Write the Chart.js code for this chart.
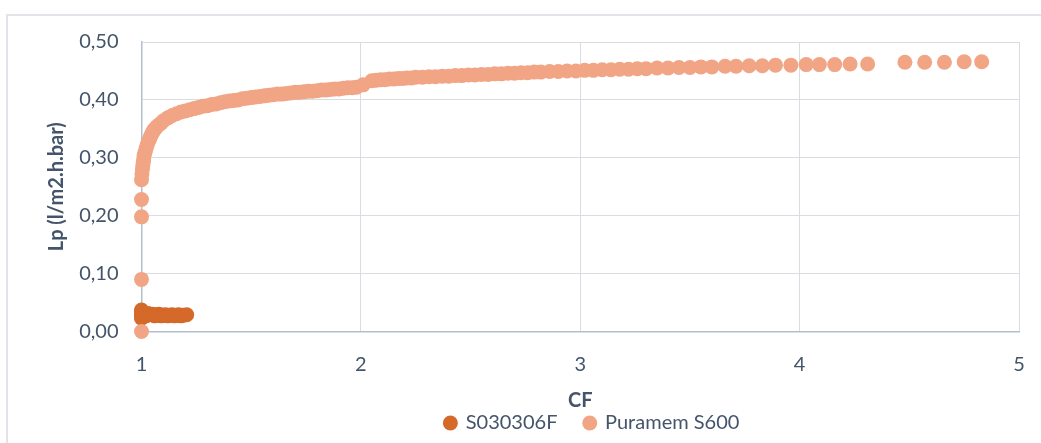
<!DOCTYPE html>
<html>
<head>
<meta charset="utf-8">
<script src="https://cdn.jsdelivr.net/npm/chart.js@4/dist/chart.umd.min.js"></script>
<style>
  html, body { margin: 0; padding: 0; background: #ffffff; }
  #wrap { position: relative; width: 1041px; height: 443px; overflow: hidden; background: #ffffff; }
  #frame { position: absolute; left: 6px; top: 14px; width: 1100px; height: 500px; border: 2px solid #e1e4e8; box-sizing: border-box; }
  #chart { position: absolute; left: 0; top: 0; }
</style>
</head>
<body>
<div id="wrap">
  <div id="frame"></div>
  <canvas id="chart" width="1041" height="443"></canvas>
</div>
<script>
// Concentration factor (CF) and permeability Lp for the Puramem S600 membrane
const cfPuramem = [
  1.000, 1.000, 1.000, 1.000, 1.000, 1.002, 1.004, 1.006, 1.008, 1.010,
  1.012, 1.016, 1.020, 1.024, 1.028, 1.032, 1.036, 1.040, 1.044, 1.048,
  1.052, 1.056, 1.062, 1.07, 1.08, 1.09, 1.10, 1.12, 1.14, 1.16,
  1.18, 1.20, 1.22, 1.24, 1.26, 1.28, 1.30, 1.32, 1.34, 1.36,
  1.38, 1.40, 1.42, 1.44, 1.46, 1.48, 1.50, 1.52, 1.54, 1.56,
  1.58, 1.60, 1.62, 1.64, 1.66, 1.68, 1.70, 1.72, 1.74, 1.76,
  1.78, 1.80, 1.82, 1.84, 1.86, 1.88, 1.90, 1.92, 1.94, 1.96,
  1.98, 2.01, 2.05, 2.07, 2.09, 2.11, 2.13, 2.15, 2.17, 2.19,
  2.21, 2.23, 2.25, 2.28, 2.31, 2.34, 2.37, 2.40, 2.43, 2.46,
  2.49, 2.52, 2.55, 2.58, 2.61, 2.64, 2.67, 2.70, 2.73, 2.76,
  2.79, 2.82, 2.86, 2.90, 2.94, 2.98, 3.02, 3.06, 3.10, 3.14,
  3.18, 3.22, 3.26, 3.30, 3.35, 3.40, 3.45, 3.50, 3.55, 3.60,
  3.66, 3.71, 3.77, 3.83, 3.89, 3.96, 4.03, 4.09, 4.16, 4.23,
  4.31, 4.48, 4.57, 4.66, 4.75, 4.83
];
const lpPuramem = [
  0.000, 0.090, 0.198, 0.228, 0.262, 0.272, 0.280, 0.286, 0.292, 0.298,
  0.304, 0.309, 0.315, 0.320, 0.325, 0.329, 0.332, 0.336, 0.339, 0.342,
  0.345, 0.348, 0.350, 0.354, 0.357, 0.360, 0.364, 0.369, 0.373, 0.376,
  0.379, 0.381, 0.383, 0.385, 0.387, 0.389, 0.390, 0.392, 0.393, 0.395,
  0.397, 0.398, 0.399, 0.400, 0.402, 0.403, 0.404, 0.405, 0.406, 0.407,
  0.408, 0.409, 0.410, 0.410, 0.411, 0.412, 0.413, 0.413, 0.414, 0.415,
  0.415, 0.416, 0.417, 0.417, 0.418, 0.419, 0.419, 0.420, 0.421, 0.421,
  0.422, 0.426, 0.433, 0.434, 0.435, 0.435, 0.436, 0.436, 0.437, 0.437,
  0.438, 0.438, 0.439, 0.439, 0.440, 0.440, 0.441, 0.441, 0.442, 0.442,
  0.443, 0.443, 0.444, 0.444, 0.445, 0.445, 0.446, 0.446, 0.447, 0.447,
  0.448, 0.448, 0.449, 0.449, 0.450, 0.450, 0.451, 0.451, 0.452, 0.452,
  0.453, 0.453, 0.454, 0.454, 0.455, 0.455, 0.456, 0.456, 0.457, 0.457,
  0.458, 0.458, 0.459, 0.459, 0.460, 0.460, 0.461, 0.461, 0.461, 0.462,
  0.462, 0.465, 0.465, 0.465, 0.466, 0.466
];

// Concentration factor (CF) and permeability Lp for the S030306F membrane
const cfS030306F = [
  1.000, 1.000, 1.000, 1.000, 1.000, 1.002, 1.004, 1.006, 1.01, 1.02,
  1.03, 1.04, 1.05, 1.06, 1.07, 1.08, 1.09, 1.10, 1.11, 1.12,
  1.13, 1.14, 1.15, 1.16, 1.17, 1.18, 1.19, 1.206
];
const lpS030306F = [
  0.037, 0.034, 0.030, 0.026, 0.023, 0.032, 0.028, 0.025, 0.030, 0.027,
  0.031, 0.030, 0.030, 0.027, 0.029, 0.030, 0.027, 0.028, 0.029, 0.027,
  0.028, 0.029, 0.027, 0.028, 0.029, 0.027, 0.028, 0.029
];

const seriesNames = ['S030306F', 'Puramem S600'];
const xTitle = 'CF';
const yTitle = 'Lp (l/m2.h.bar)';
const xTicks = [1, 2, 3, 4, 5];
const yTicks = [0, 0.1, 0.2, 0.3, 0.4, 0.5];

const toPoints = (xs, ys) => xs.map((x, i) => ({ x: x, y: ys[i] }));

const textColor = '#44546a';
const fontFamily = 'Lato, "Open Sans", sans-serif';

// Nudges the bottom legend so it sits under the right part of the plot
const legendShift = {
  id: 'legendShift',
  afterLayout(chart) {
    if (chart.legend) {
      chart.legend.left += 12;
      chart.legend.right += 12;
    }
  }
};

new Chart(document.getElementById('chart'), {
  type: 'scatter',
  plugins: [legendShift],
  data: {
    datasets: [
      {
        label: seriesNames[1],
        data: toPoints(cfPuramem, lpPuramem),
        backgroundColor: '#f1a585',
        borderColor: '#f1a585',
        borderWidth: 0,
        pointRadius: 7.5,
        pointHoverRadius: 7.5,
        clip: false
      },
      {
        label: seriesNames[0],
        data: toPoints(cfS030306F, lpS030306F),
        backgroundColor: '#d4692a',
        borderColor: '#d4692a',
        borderWidth: 0,
        pointRadius: 7.5,
        pointHoverRadius: 7.5,
        clip: false
      }
    ]
  },
  options: {
    responsive: false,
    animation: false,
    events: [],
    layout: { padding: { left: 0, right: 22, top: 42, bottom: 0 } },
    plugins: {
      tooltip: { enabled: false },
      legend: {
        position: 'bottom',
        fullSize: false,
        labels: {
          usePointStyle: true,
          pointStyle: 'circle',
          boxWidth: 10.6,
          boxHeight: 10.6,
          padding: 27,
          color: textColor,
          font: { family: fontFamily, size: 20 },
          sort: (a, b) => b.datasetIndex - a.datasetIndex
        }
      }
    },
    scales: {
      x: {
        type: 'linear',
        min: xTicks[0],
        max: xTicks[xTicks.length - 1],
        afterBuildTicks: s => { s.ticks = xTicks.map(v => ({ value: v })); },
        afterFit: s => { s.height = 54.5; },
        grid: { color: '#d9dde3', lineWidth: 1, drawTicks: true, tickLength: 20, tickColor: 'rgba(0,0,0,0)' },
        border: { color: '#b4bfcd', width: 1.5 },
        ticks: {
          color: textColor,
          padding: 1,
          font: { family: fontFamily, size: 20 },
          maxRotation: 0,
          callback: v => String(v)
        },
        title: {
          display: true,
          text: xTitle,
          color: textColor,
          font: { family: fontFamily, size: 20, weight: 'bold' },
          padding: { top: 0, bottom: -27 }
        }
      },
      y: {
        type: 'linear',
        min: yTicks[0],
        max: yTicks[yTicks.length - 1],
        afterBuildTicks: s => { s.ticks = yTicks.map(v => ({ value: v })); },
        afterFit: s => { s.width = 141.5; },
        grid: { color: '#d9dde3', lineWidth: 1, drawTicks: false },
        border: { color: '#b4bfcd', width: 1.5 },
        ticks: {
          color: textColor,
          padding: 23,
          font: { family: fontFamily, size: 20 },
          callback: v => v.toFixed(2).replace('.', ',')
        },
        title: {
          display: true,
          text: yTitle,
          color: textColor,
          font: { family: fontFamily, size: 20, weight: 'bold' },
          padding: { top: 45, bottom: 0 }
        }
      }
    }
  }
});
</script>
</body>
</html>
